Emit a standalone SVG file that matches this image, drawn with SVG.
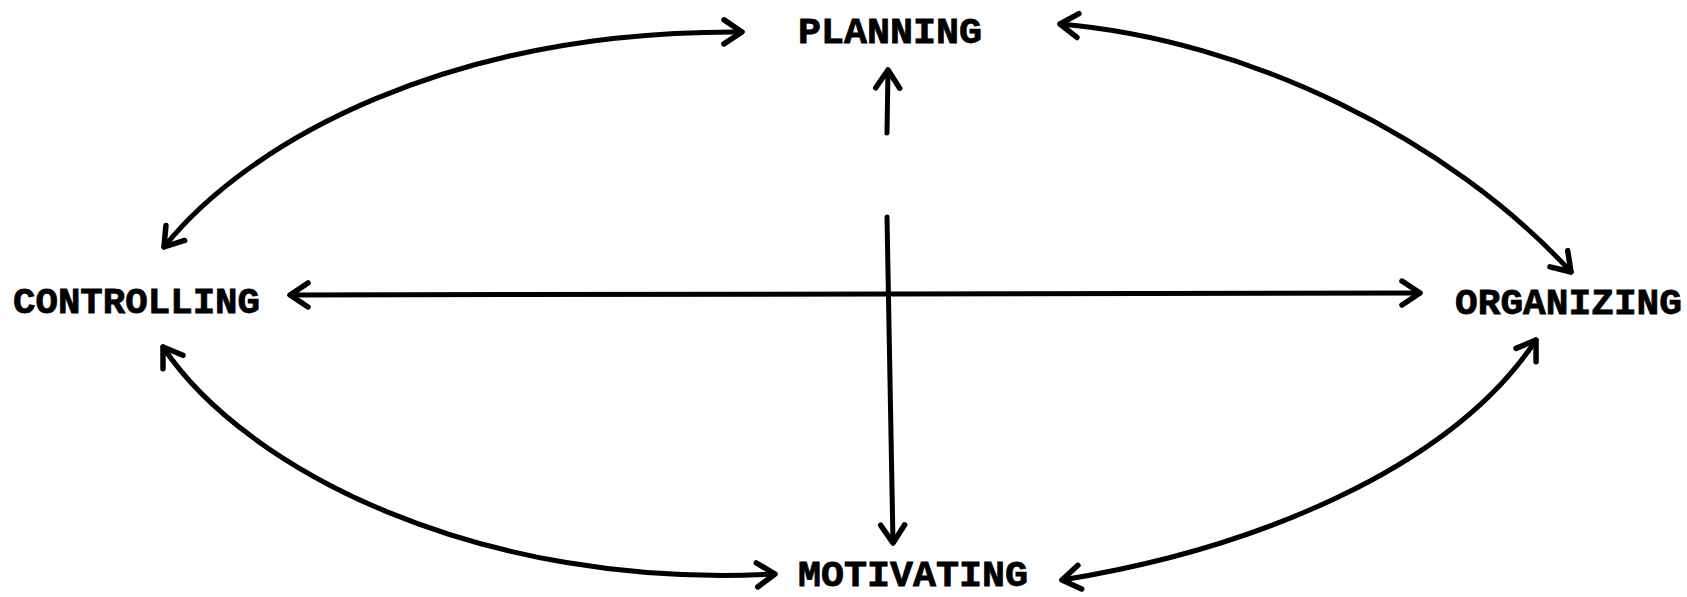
<svg xmlns="http://www.w3.org/2000/svg" width="1687" height="597" viewBox="0 0 1687 597">
<style>
.lbl{font-family:"Liberation Mono","Courier New",monospace;font-weight:bold;font-size:37px;fill:#000;stroke:#000;stroke-width:0.8px}
.con{fill:none;stroke:#000;stroke-width:5;stroke-linecap:round;stroke-linejoin:round}
</style>
<defs>
<marker id="ah" viewBox="-2 -2 24 30" refX="19" refY="13" markerWidth="24" markerHeight="30" markerUnits="userSpaceOnUse" orient="auto-start-reverse" overflow="visible">
<path d="M1,1 L19,13 L1,25" fill="none" stroke="#000" stroke-width="5.5" stroke-linecap="round" stroke-linejoin="round"/>
</marker>
</defs>
<rect width="1687" height="597" fill="#fff"/>
<g id="connectors">
<path class="con" d="M164,247 C250,140 450,30 742,32" marker-start="url(#ah)" marker-end="url(#ah)"/>
<path class="con" d="M1060,24 C1250,40 1450,140 1571,272" marker-start="url(#ah)" marker-end="url(#ah)"/>
<path class="con" d="M163,347 C245,470 480,590 775,574" marker-start="url(#ah)" marker-end="url(#ah)"/>
<path class="con" d="M1062,580 C1250,550 1450,470 1536,340" marker-start="url(#ah)" marker-end="url(#ah)"/>
<path class="con" d="M290,295 L1420,293" marker-start="url(#ah)" marker-end="url(#ah)"/>
<path class="con" d="M887,217 L893,543" marker-end="url(#ah)"/>
<path class="con" d="M887,133 L888,70" marker-end="url(#ah)"/>
</g>
<g id="planning"><text class="lbl" x="798" y="43" textLength="184" lengthAdjust="spacingAndGlyphs">PLANNING</text></g>
<g id="controlling"><text class="lbl" x="13" y="313" textLength="247" lengthAdjust="spacingAndGlyphs">CONTROLLING</text></g>
<g id="organizing"><text class="lbl" x="1455" y="314" textLength="227" lengthAdjust="spacingAndGlyphs">ORGANIZING</text></g>
<g id="motivating"><text class="lbl" x="798" y="586" textLength="230" lengthAdjust="spacingAndGlyphs">MOTIVATING</text></g>
</svg>
